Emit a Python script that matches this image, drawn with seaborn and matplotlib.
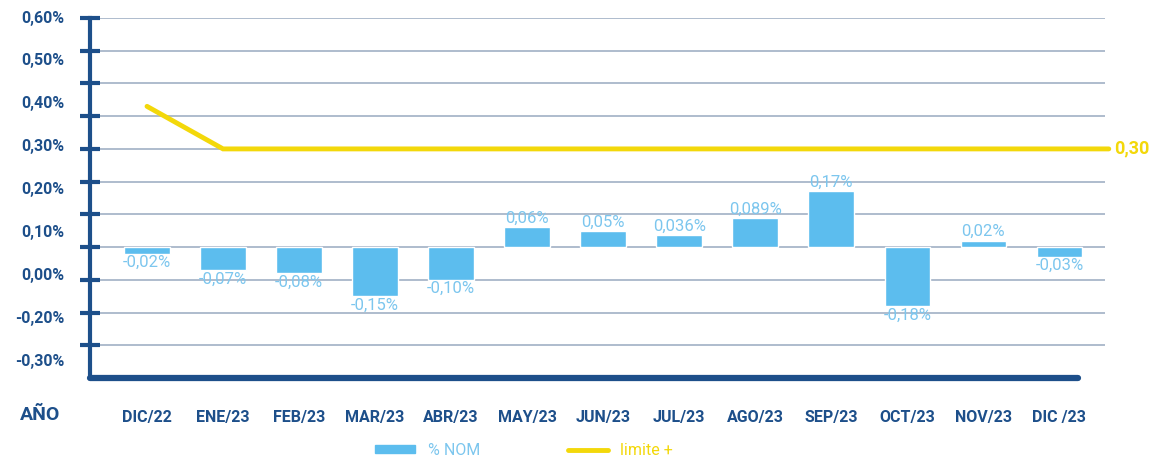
import numpy as np
import pandas as pd
import matplotlib
matplotlib.use("Agg")
import matplotlib.pyplot as plt
import seaborn as sns
from matplotlib.patches import Patch
from matplotlib.lines import Line2D

# datos
meses = ["DIC/22", "ENE/23", "FEB/23", "MAR/23", "ABR/23", "MAY/23", "JUN/23",
         "JUL/23", "AGO/23", "SEP/23", "OCT/23", "NOV/23", "DIC /23"]
nom = [-0.02, -0.07, -0.08, -0.15, -0.10, 0.06, 0.05, 0.036, 0.089, 0.17, -0.18, 0.02, -0.03]
limite = [0.43, 0.30, 0.30, 0.30, 0.30, 0.30, 0.30, 0.30, 0.30, 0.30, 0.30, 0.30, 0.30]
etiquetas_y = ["0,60%", "0,50%", "0,40%", "0,30%", "0,20%", "0,10%", "0,00%", "-0,20%", "-0,30%"]
grid_y = [-0.3, -0.2, -0.1, 0.0, 0.1, 0.2, 0.3, 0.4, 0.5, 0.6, 0.7]

navy = "#1d4f8a"
azul = "#5cbdee"
azul_txt = "#7cc6ee"
amarillo = "#f3d80a"
gris = "#aebccd"

sns.set_theme(style="white")
plt.rcParams["font.family"] = ["Roboto", "DejaVu Sans"]

df = pd.DataFrame({"mes": meses, "nom": nom, "limite": limite})

fig = plt.figure(figsize=(11.51, 4.61), dpi=100)
ax = fig.add_axes([90 / 1151, 1 - 378 / 461, 1015 / 1151, 360 / 461])

sns.barplot(data=df, x="mes", y="nom", color=azul, width=0.6, saturation=1, ax=ax, zorder=3)

ax.set_xlim(-0.75, 12.6)
ax.set_ylim(-0.40, 0.70)

# linea limite, prolongada hasta el borde derecho
x_lim = list(range(len(meses))) + [12.65]
y_lim = limite + [limite[-1]]
ax.plot(x_lim, y_lim, color=amarillo, lw=3.5, zorder=4, clip_on=False, solid_joinstyle="miter")
ax.text(12.72, limite[-1], f"{limite[-1]:.2f}".replace(".", ","), color=amarillo,
        fontsize=13, fontweight="bold", va="center", ha="left", clip_on=False)

# grilla
for g in grid_y:
    ax.axhline(g, color=gris, lw=1.4, zorder=0.2)

# ejes
for s in ["top", "right", "bottom"]:
    ax.spines[s].set_visible(False)
ax.spines["left"].set_color(navy)
ax.spines["left"].set_linewidth(3)
ax.axhline(-0.40, xmin=0, xmax=988 / 1015, color=navy, lw=4.5, clip_on=False, zorder=5)

ax.set_yticks(grid_y)
ax.set_yticklabels([])
ax.tick_params(axis="y", direction="inout", length=14, width=3, color=navy, left=True)

for lab, yy in zip(etiquetas_y, np.linspace(0.70, -0.35, len(etiquetas_y))):
    ax.text(-0.025, yy, lab, transform=ax.get_yaxis_transform(), ha="right", va="center",
            color=navy, fontsize=11.5, fontweight="bold")

ax.set_xlabel("")
ax.set_ylabel("")
ax.tick_params(axis="x", length=0, pad=23)
for t in ax.get_xticklabels():
    t.set_color(navy)
    t.set_fontweight("bold")
    t.set_fontsize(11.5)

fig.text(40 / 1151, 1 - 415 / 461, "AÑO", color=navy, fontsize=14, fontweight="bold",
         ha="center", va="center")

# etiquetas de barras
def fmt(v):
    s = f"{v:.3f}"
    if s.endswith("0"):
        s = s[:-1]
    return s.replace(".", ",") + "%"

for i, v in enumerate(nom):
    if v >= 0:
        ax.annotate(fmt(v), (i, v), xytext=(0, 1), textcoords="offset points",
                    ha="center", va="bottom", color=azul_txt, fontsize=12, zorder=6)
    else:
        ax.annotate(fmt(v), (i, v), xytext=(0, -1), textcoords="offset points",
                    ha="center", va="top", color=azul_txt, fontsize=12, zorder=6)

handles = [Patch(color=azul, label="% NOM"), Line2D([0], [0], color=amarillo, lw=3.5, label="limite +")]
leg = fig.legend(handles=handles, loc="lower center", bbox_to_anchor=(524 / 1151, -0.025),
                 ncol=2, frameon=False, fontsize=11.5, handlelength=2.5, handleheight=0.4,
                 columnspacing=5.5)
leg.get_texts()[0].set_color(azul_txt)
leg.get_texts()[1].set_color(amarillo)

fig.savefig("out.png", dpi=100)
